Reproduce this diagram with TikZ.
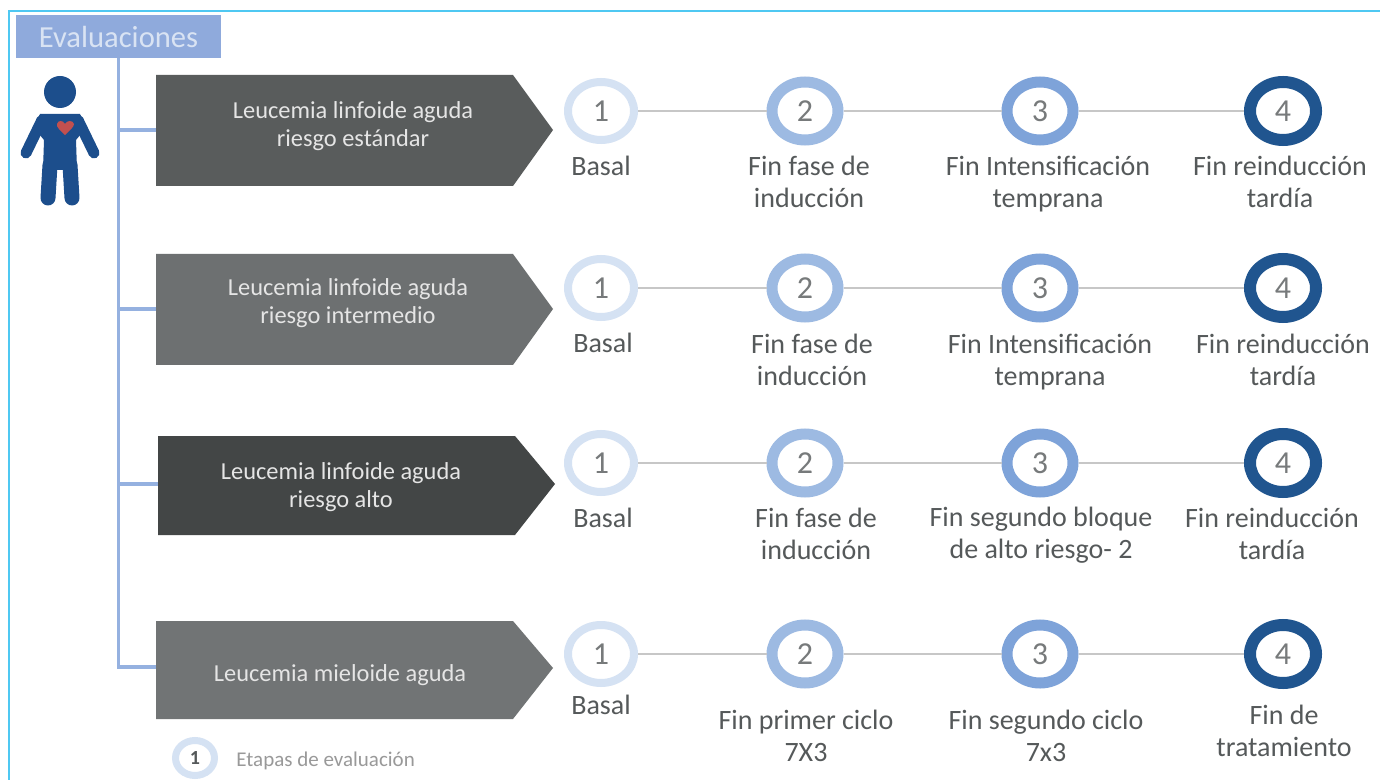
\documentclass[tikz,border=0pt]{standalone}
\usepackage{fontspec}
\setmainfont{Carlito}
\usetikzlibrary{shapes.geometric}

\definecolor{marco}{HTML}{4FC8F2}
\definecolor{azulbox}{HTML}{8FAADC}
\definecolor{azultxt}{HTML}{D9E3F3}
\definecolor{azultronco}{HTML}{95B1E0}
\definecolor{etapauno}{HTML}{D5E2F3}
\definecolor{etapados}{HTML}{9DBAE2}
\definecolor{etapatres}{HTML}{7EA3D9}
\definecolor{etapacuatro}{HTML}{20558F}
\definecolor{persona}{HTML}{1C4E8C}
\definecolor{corazon}{HTML}{C2504F}
\definecolor{texto}{HTML}{55595A}
\definecolor{flechauno}{HTML}{595C5C}
\definecolor{flechados}{HTML}{6D7071}
\definecolor{flechatres}{HTML}{434646}
\definecolor{flechacuatro}{HTML}{717475}

\tikzset{
	etapa/.style={ellipse,draw,fill=white,inner sep=0pt,minimum width=33pt,minimum height=29pt,
		text=texto!80,font=\fontsize{16}{18}\selectfont},
	etapa1/.style={etapa,draw=etapauno,line width=4pt},
	etapa2/.style={etapa,draw=etapados,line width=5.5pt},
	etapa3/.style={etapa,draw=etapatres,line width=5.5pt},
	etapa4/.style={etapa,draw=etapacuatro,line width=6pt},
	rotulo/.style={align=center,inner sep=0pt,text=texto,font=\fontsize{14}{16}\selectfont},
	rotuloflecha/.style={align=center,inner sep=0pt,text=white!90!black,font=\fontsize{12.2}{14}\selectfont},
	tronco/.style={draw=azultronco,line width=1.8pt},
	enlace/.style={draw=black!22,line width=1pt}
}

\begin{document}
\begin{tikzpicture}[x=0.5pt,y=-0.5pt]
	\useasboundingbox (0,0) rectangle (1380,780);
	\fill[white] (0,0) rectangle (1380,780);

	\draw[marco,line width=0.8pt] (9,780)--(9,11)--(1380,11);

	\node[fill=azulbox,text=azultxt,inner sep=0pt,minimum width=102.5pt,minimum height=21.5pt,
		font=\fontsize{15.3}{17}\selectfont] (eval) at (118.5,36.5) {Evaluaciones};

	% ramas
	\foreach \n/\y in {1/130,2/309,3/484,4/667}
	{
		\coordinate (flecha\n) at (158,\y);
		\draw[tronco] (flecha\n) -| (eval.south);
	}

	% flechas
	\fill[flechauno] (156,75)--(513,75)--(553,130)--(513,186)--(156,186)--cycle;
	\fill[flechados] (156,254)--(513,254)--(553,309)--(513,365)--(156,365)--cycle;
	\fill[flechatres] (158,436)--(515,436)--(555,484)--(515,535)--(158,535)--cycle;
	\fill[flechacuatro] (156,621)--(513,621)--(553,668)--(513,719)--(156,719)--cycle;

	\node[rotuloflecha] (tit1) at (353,126) {Leucemia linfoide aguda\\riesgo estándar};
	\node[rotuloflecha] (tit2) at (348,303) {Leucemia linfoide aguda\\riesgo intermedio};
	\node[rotuloflecha] (tit3) at (341,487) {Leucemia linfoide aguda\\riesgo alto};
	\node[rotuloflecha] (tit4) at (340,675) {Leucemia mieloide aguda};

	% persona
	\fill[persona] (60,92) circle (16);
	\fill[persona] (40,114)--(80,114)--(86,128)--(76,140)--(77,170)--(43,170)--(44,140)--(34,128)--cycle;
	\draw[persona,line width=5.5pt,line cap=round] (42,120)--(26,153);
	\draw[persona,line width=5.5pt,line cap=round] (78,120)--(94,153);
	\draw[persona,line width=7.5pt,line cap=round] (50,165)--(48,198);
	\draw[persona,line width=7.5pt,line cap=round] (70,165)--(72,198);
	\fill[corazon] (65,135) .. controls (60,130) and (56,127) .. (57,124)
		.. controls (58,120) and (63,120) .. (65,124)
		.. controls (67,120) and (73,120) .. (74,124)
		.. controls (74,127) and (70,130) .. (65,135);

	% etapas
	\foreach \f/\y in {1/111,2/288,3/463,4/654}
	{
		\node[etapa1] (f\f e1) at (601,\y) {1};
		\node[etapa2] (f\f e2) at (805,\y) {2};
		\node[etapa3] (f\f e3) at (1040,\y) {3};
		\node[etapa4] (f\f e4) at (1283,\y) {4};
		\draw[enlace] (f\f e1)--(f\f e2);
		\draw[enlace] (f\f e2)--(f\f e3);
		\draw[enlace] (f\f e3)--(f\f e4);
	}

	\node[rotulo] (a1) at (601,166) {Basal};
	\node[rotulo] (a2) at (809,182) {Fin fase de\\inducción};
	\node[rotulo] (a3) at (1048,184) {Fin Intensificación\\temprana};
	\node[rotulo] (a4) at (1280,182) {Fin reinducción\\tardía};

	\node[rotulo] (b1) at (603,343) {Basal};
	\node[rotulo] (b2) at (812,360) {Fin fase de\\inducción};
	\node[rotulo] (b3) at (1050,362) {Fin Intensificación\\temprana};
	\node[rotulo] (b4) at (1283,360) {Fin reinducción\\tardía};

	\node[rotulo] (c1) at (603,518) {Basal};
	\node[rotulo] (c2) at (816,534) {Fin fase de\\inducción};
	\node[rotulo] (c3) at (1041,535) {Fin segundo bloque\\de alto riesgo- 2};
	\node[rotulo] (c4) at (1272,534) {Fin reinducción\\tardía};

	\node[rotulo] (d1) at (601,705) {Basal};
	\node[rotulo] (d2) at (806,736) {Fin primer ciclo\\7X3};
	\node[rotulo] (d3) at (1046,736) {Fin segundo ciclo\\7x3};
	\node[rotulo] (d4) at (1284,731) {Fin de\\tratamiento};

	% leyenda
	\node[ellipse,draw=etapauno,line width=3.5pt,fill=white,inner sep=0pt,minimum width=19.5pt,minimum height=17.5pt,
		text=texto,font=\bfseries\fontsize{10}{11}\selectfont] (ley) at (195,758) {1};
	\node[anchor=west,inner sep=0pt,text=black!40,font=\fontsize{10.5}{12}\selectfont] (leytxt) at (236,761) {Etapas de evaluación};
\end{tikzpicture}
\end{document}
